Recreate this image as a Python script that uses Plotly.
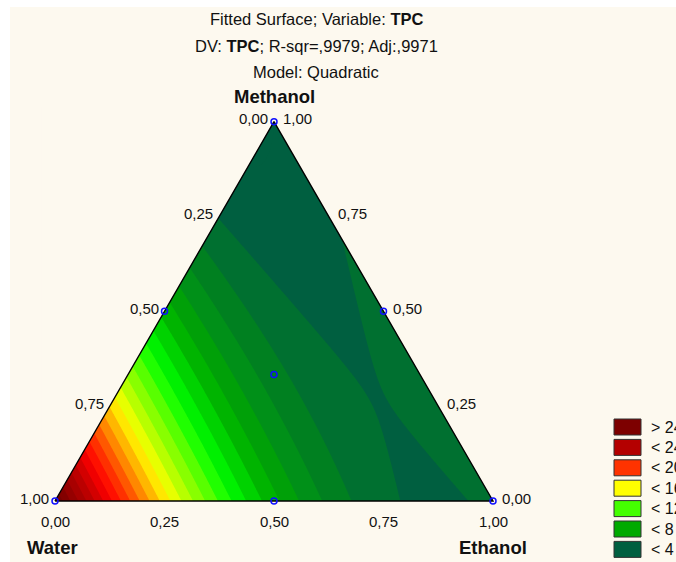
import numpy as np
import plotly.graph_objects as go

# ---- data: simplex-centroid design points and TPC responses ----
water    = [1.0, 0.0, 0.0, 0.5, 0.5, 0.0, 1/3]
ethanol  = [0.0, 1.0, 0.0, 0.5, 0.0, 0.5, 1/3]
methanol = [0.0, 0.0, 1.0, 0.0, 0.5, 0.5, 1/3]
tpc      = [29.0, 4.4, 3.0, 8.3, 8.6, 4.36, 5.4]

tick_values = [0.0, 0.25, 0.5, 0.75, 1.0]
tick_labels = ["0,00", "0,25", "0,50", "0,75", "1,00"]

legend_labels = ["> 24", "< 24", "< 20", "< 16", "< 12", "< 8", "< 4"]
legend_colors = ["#7d0000", "#b40000", "#ff3300", "#ffff00", "#44ff00", "#00aa00", "#005f40"]

color_anchor_values = [3.5, 4.5, 5.5, 6.5, 7.5, 8.5, 11.0, 12.0, 16.0, 20.0, 22.0, 24.0, 28.0, 28.5]
color_anchor_colors = ["#005f40", "#007030", "#008020", "#009018", "#00a008", "#00b400",
                       "#00ff00", "#40ff00", "#ffff00", "#ff4000", "#ff0000", "#c40000",
                       "#7a0000", "#780000"]

title_lines = ["Fitted Surface; Variable: <b>TPC</b>",
               "DV: <b>TPC</b>; R-sqr=,9979; Adj:,9971",
               "Model: Quadratic"]

FONT = "Liberation Sans, Arial, sans-serif"
BG = "#fdf9ef"
S3 = np.sqrt(3) / 2

# ---- quadratic (Scheffe) mixture model fitted to the design points ----
W, E, M = np.array(water), np.array(ethanol), np.array(methanol)
X = np.column_stack([W, E, M, W * E, W * M, E * M])
coef, *_ = np.linalg.lstsq(X, np.array(tpc), rcond=None)

def model(w, e, m):
    return (coef[0] * w + coef[1] * e + coef[2] * m +
            coef[3] * w * e + coef[4] * w * m + coef[5] * e * m)

def to_xy(w, e, m):
    w, e, m = np.asarray(w), np.asarray(e), np.asarray(m)
    return e + m / 2, m * S3

xs = np.linspace(-0.02, 1.02, 281)
ys = np.linspace(-0.02, 0.89, 246)
XX, YY = np.meshgrid(xs, ys)
MM = YY / S3
EE = XX - MM / 2
WW = 1 - EE - MM
Z = model(WW, EE, MM)

zmin, zmax = color_anchor_values[0], color_anchor_values[-1]
colorscale = [[(v - zmin) / (zmax - zmin), c] for v, c in zip(color_anchor_values, color_anchor_colors)]

fig = go.Figure()
fig.add_trace(go.Contour(
    x=xs, y=ys, z=Z, zmin=zmin, zmax=zmax, zauto=False,
    colorscale=colorscale, showscale=False, autocontour=False,
    contours=dict(start=0, end=30, size=1, coloring="fill", showlines=False),
    line=dict(width=0), hoverinfo="skip"))

# cover outside the triangle
cx = [-0.03, 1.03, 1.03, -0.03, -0.03, 0, 0.5, 1, 0, -0.03]
cy = [-0.03, -0.03, 0.9, 0.9, -0.03, 0, S3, 0, 0, -0.03]
fig.add_trace(go.Scatter(x=cx, y=cy, mode="lines", fill="toself", fillcolor=BG,
                         line=dict(width=0), hoverinfo="skip"))

# triangle outline
tx, ty = to_xy([1, 0, 0, 1], [0, 1, 0, 0], [0, 0, 1, 0])
fig.add_trace(go.Scatter(x=tx, y=ty, mode="lines", line=dict(color="black", width=1.4),
                         hoverinfo="skip"))

# design points
px_, py_ = to_xy(water, ethanol, methanol)
fig.add_trace(go.Scatter(x=px_, y=py_, mode="markers",
                         marker=dict(symbol="circle-open", size=6, color="#1010ff",
                                     line=dict(width=1.5, color="#1010ff")),
                         hoverinfo="skip"))

ann = []
tf = dict(family=FONT, size=15, color="#111111")
# water ticks (left edge)
for v, lab in zip(tick_values, tick_labels):
    x, y = to_xy(v, 0, 1 - v)
    ann.append(dict(x=float(x), y=float(y), text=lab, showarrow=False, xanchor="right",
                    yanchor="middle", xshift=-4, yshift=3, font=tf))
# methanol ticks (right edge)
for v, lab in zip(tick_values, tick_labels):
    x, y = to_xy(0, 1 - v, v)
    ann.append(dict(x=float(x), y=float(y), text=lab, showarrow=False, xanchor="left",
                    yanchor="middle", xshift=7, yshift=3, font=tf))
# ethanol ticks (bottom edge)
for v, lab in zip(tick_values, tick_labels):
    x, y = to_xy(1 - v, v, 0)
    ann.append(dict(x=float(x), y=float(y), text=lab, showarrow=False, xanchor="center",
                    yanchor="middle", yshift=-20, font=tf))

bf = dict(family=FONT, size=18.5, color="#111111")
x, y = to_xy(0, 0, 1)
ann.append(dict(x=float(x), y=float(y), text="<b>Methanol</b>", showarrow=False,
                xanchor="center", yanchor="middle", yshift=25, font=bf))
x, y = to_xy(1, 0, 0)
ann.append(dict(x=float(x), y=float(y), text="<b>Water</b>", showarrow=False,
                xanchor="center", yanchor="middle", xshift=-3, yshift=-46, font=bf))
x, y = to_xy(0, 1, 0)
ann.append(dict(x=float(x), y=float(y), text="<b>Ethanol</b>", showarrow=False,
                xanchor="center", yanchor="middle", yshift=-46, font=bf))

W_PX, H_PX = 676, 562
for i, (t, ypx) in enumerate(zip(title_lines, [19, 46, 72])):
    ann.append(dict(xref="paper", yref="paper", x=316 / W_PX, y=1 - ypx / H_PX, text=t,
                    showarrow=False, xanchor="center", yanchor="middle",
                    font=dict(family=FONT, size=16.5, color="#111111")))

shapes = []
for i, (lab, col) in enumerate(zip(legend_labels, legend_colors)):
    top = 419 + i * 20.4
    shapes.append(dict(type="rect", xref="paper", yref="paper",
                       x0=614 / W_PX, x1=641 / W_PX, y0=1 - top / H_PX, y1=1 - (top + 16) / H_PX,
                       fillcolor=col, line=dict(color="#333333", width=1)))
    ann.append(dict(xref="paper", yref="paper", x=649 / W_PX, y=1 - (top + 8) / H_PX, text=lab,
                    showarrow=False, xanchor="left", yanchor="middle",
                    font=dict(family=FONT, size=16, color="#111111")))

# white border strips
shapes.append(dict(type="rect", xref="paper", yref="paper", x0=0, x1=10 / W_PX, y0=0, y1=1,
                   fillcolor="white", line=dict(width=0), layer="above"))
shapes.append(dict(type="rect", xref="paper", yref="paper", x0=0, x1=1, y0=1 - 7 / H_PX, y1=1,
                   fillcolor="white", line=dict(width=0), layer="above"))

unit = 438.0
fig.update_layout(
    width=W_PX, height=H_PX, autosize=False,
    margin=dict(l=0, r=0, t=0, b=0, pad=0),
    paper_bgcolor=BG, plot_bgcolor=BG,
    showlegend=False,
    xaxis=dict(range=[-55 / unit, (W_PX - 55) / unit], visible=False, fixedrange=True),
    yaxis=dict(range=[-(H_PX - 501) / unit, 501 / unit], visible=False, fixedrange=True),
    annotations=ann, shapes=shapes,
)

fig.write_html("out.html", config={"displayModeBar": False},
               post_script="document.body.style.margin='0';document.body.style.overflow='hidden';")
